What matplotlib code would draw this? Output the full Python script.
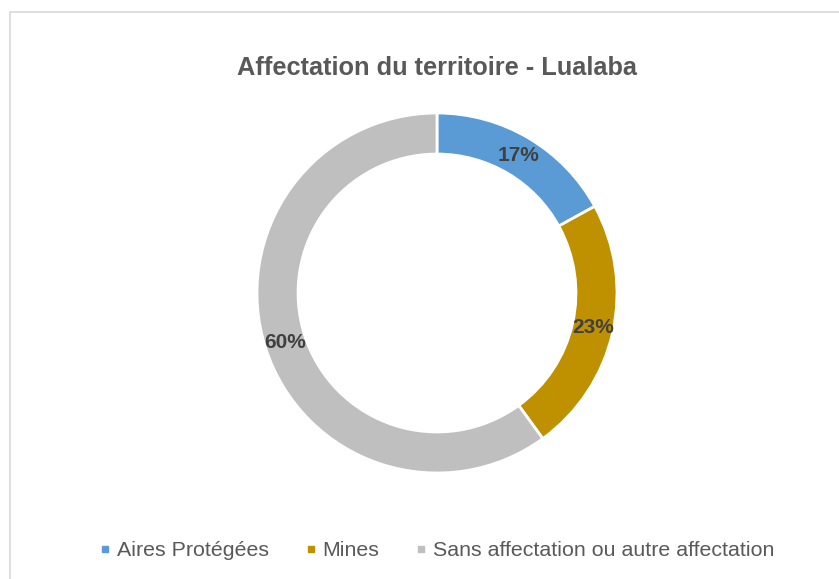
"""Donut chart: land allocation in Lualaba"""

import matplotlib.pyplot as plt
from matplotlib.lines import Line2D
from matplotlib.patches import Rectangle

categories = ["Aires Protégées", "Mines", "Sans affectation ou autre affectation"]
shares = [17, 23, 60]
colors = ["#5B9BD5", "#BF9000", "#BFBFBF"]

plt.rcParams['font.family'] = ['Liberation Sans', 'DejaVu Sans']

W, H = 839, 579
fig = plt.figure(figsize=(W / 100, H / 100), dpi=100)

# light frame round the chart area (runs off right and bottom edges)
fig.patches.append(Rectangle((10 / W, -0.05), 1, 1.05 - 12 / H, transform=fig.transFigure,
                             fill=False, edgecolor="#D9D9D9", linewidth=1.2))

# donut centre and radius in pixels
cx, cy, r = 437, 293, 180
ax = fig.add_axes([(cx - r) / W, (H - cy - r) / H, 2 * r / W, 2 * r / H])

wedges, texts, autotexts = ax.pie(
    shares, colors=colors, startangle=90, counterclock=False,
    autopct='%d%%', pctdistance=0.886,
    wedgeprops=dict(width=0.228, edgecolor="white", linewidth=2),
    textprops=dict(color="#404040", fontsize=15, fontweight="bold"))
ax.set_xlim(-1, 1)
ax.set_ylim(-1, 1)
ax.set_aspect("equal")
ax.axis("off")

fig.text(cx / W, 1 - 68 / H, "Affectation du territoire - Lualaba",
         ha="center", va="center", fontsize=18.3, fontweight="bold", color="#595959")

handles = [Line2D([], [], marker="s", linestyle="none", markersize=5,
                  markerfacecolor=c, markeredgecolor=c) for c in colors]
fig.legend(handles, categories, loc="center", bbox_to_anchor=(cx / W, 1 - 551 / H),
           ncol=3, frameon=False, fontsize=15.4, labelcolor="#595959",
           handlelength=0.5, handletextpad=0.3, columnspacing=1.7)

plt.savefig("out.png", dpi=100)
